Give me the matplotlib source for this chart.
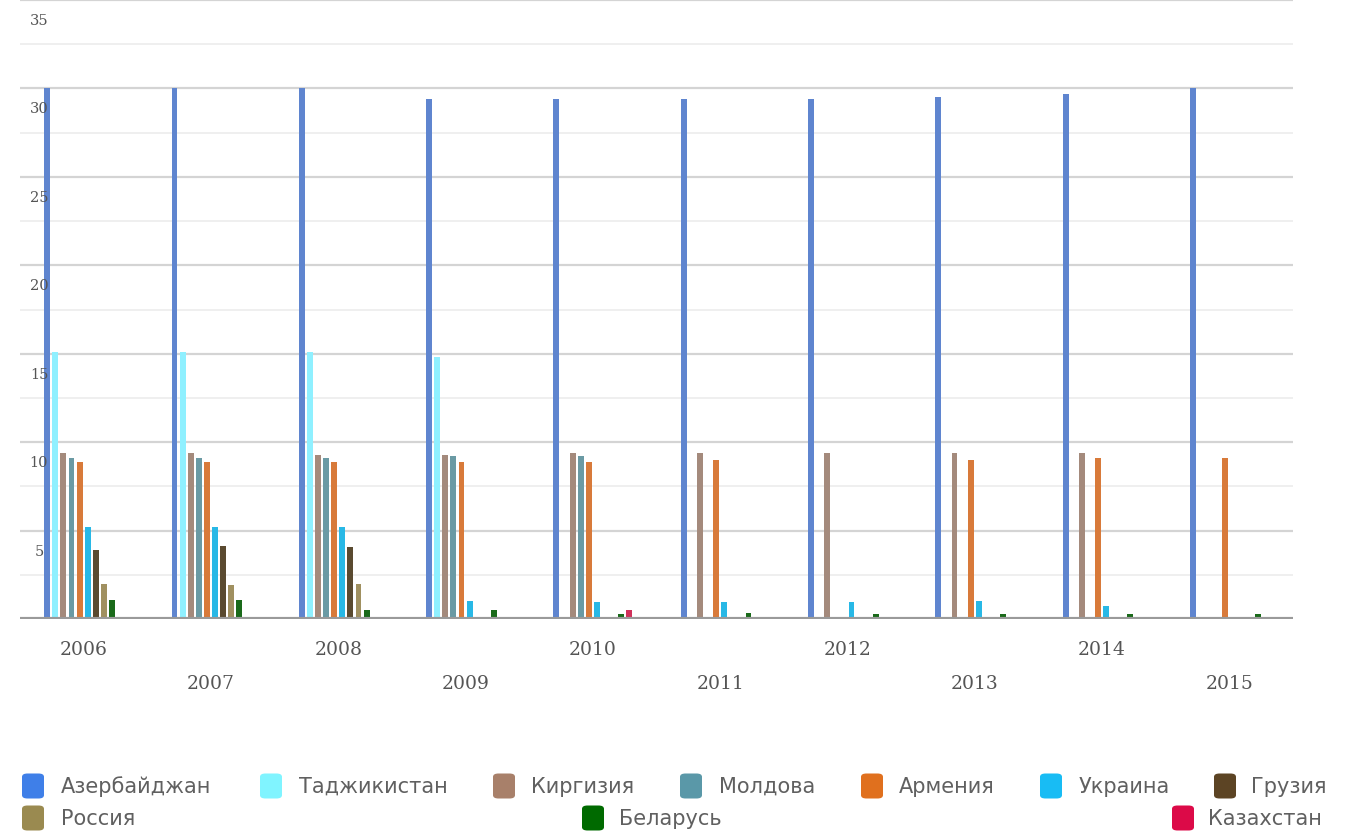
import matplotlib
matplotlib.use("Agg")
import matplotlib.pyplot as plt
import numpy as np
from matplotlib.patches import FancyBboxPatch

years = ["2006", "2007", "2008", "2009", "2010", "2011", "2012", "2013", "2014", "2015"]
countries = ["Азербайджан", "Таджикистан", "Киргизия", "Молдова", "Армения",
             "Украина", "Грузия", "Россия", "Беларусь", "Казахстан"]

azerbaijan = [30.0, 30.0, 30.0, 29.4, 29.4, 29.4, 29.4, 29.5, 29.7, 30.0]
tajikistan = [15.1, 15.1, 15.1, 14.8, 0, 0, 0, 0, 0, 0]
kirgizia   = [9.4, 9.4, 9.3, 9.3, 9.4, 9.4, 9.4, 9.4, 9.4, 0]
moldova    = [9.1, 9.1, 9.1, 9.2, 9.2, 0, 0, 0, 0, 0]
armenia    = [8.85, 8.85, 8.9, 8.9, 8.85, 9.0, 0, 9.0, 9.1, 9.1]
ukraine    = [5.2, 5.2, 5.2, 1.0, 0.95, 0.95, 0.95, 1.0, 0.75, 0]
georgia    = [3.9, 4.1, 4.05, 0, 0, 0, 0, 0, 0, 0]
russia     = [2.0, 1.9, 2.0, 0, 0, 0, 0, 0, 0, 0]
belarus    = [1.1, 1.1, 0.5, 0.5, 0.3, 0.35, 0.3, 0.3, 0.3, 0.3]
kazakhstan = [0, 0, 0, 0, 0.5, 0, 0, 0, 0, 0]

series = [azerbaijan, tajikistan, kirgizia, moldova, armenia,
          ukraine, georgia, russia, belarus, kazakhstan]
bar_colors = ["#5f85cf", "#8ff0ff", "#a48a7c", "#6a9aa4", "#d87a3a",
              "#28b8e6", "#5a4a30", "#a09060", "#1a6a1a", "#d0305a"]
legend_colors = ["#3f7fe8", "#80f4ff", "#a8806a", "#5a98a8", "#e0701e",
                 "#18bcf4", "#5c4424", "#9a8a50", "#006a00", "#dc0a48"]

W, H = 1350, 837
fig = plt.figure(figsize=(W / 100, H / 100), dpi=100)
ax = fig.add_axes([20 / W, 1 - 620 / H, (1293 - 20) / W, 619 / H])
ax.set_xlim(-0.5, len(years) - 0.5)
ax.set_ylim(0, 35)

x = np.arange(len(years))
slot = 0.0636
bw = 0.046
for i, (vals, c) in enumerate(zip(series, bar_colors)):
    ax.bar(x + (i - 4.5) * slot, vals, width=bw, color=c, edgecolor="none", zorder=3)

# gridlines
for v in np.arange(2.5, 35.1, 2.5):
    major = abs(v / 5 - round(v / 5)) < 1e-6
    ax.axhline(v, color="#d4d4d4" if major else "#ececec", lw=1.6 if major else 1.2, zorder=1)
ax.axhline(0, color="#9a9a9a", lw=3, zorder=4)

for s in ax.spines.values():
    s.set_visible(False)
ax.set_xticks([])
ax.set_yticks([])

# y labels (inside, below gridlines)
for v in range(5, 36, 5):
    ax.annotate(str(v), xy=(0, v), xycoords=("axes fraction", "data"),
                xytext=(19 / 1.389, -20 / 1.389), textcoords="offset points",
                ha="center", va="center", fontsize=10.5, family="DejaVu Serif",
                color="#555555")

# x labels, alternating rows
for i, yr in enumerate(years):
    off = 30 if i % 2 == 0 else 64
    ax.annotate(yr, xy=(i, 0), xycoords="data",
                xytext=(0, -off / 1.389), textcoords="offset points",
                ha="center", va="center", fontsize=13.5, family="DejaVu Serif",
                color="#555555")

# legend (manual layout)
items = [
    (0, 33, 61, 787), (1, 271, 299, 787), (2, 504, 531, 787), (3, 691, 719, 787),
    (4, 872, 899, 787), (5, 1051, 1079, 787), (6, 1225, 1251, 787),
    (7, 33, 61, 819), (8, 593, 619, 819), (9, 1183, 1208, 819),
]
for idx, sx, tx, ty in items:
    sw, sh = 22, 25
    p = FancyBboxPatch(((sx - sw / 2) / W, 1 - (ty + sh / 2) / H), sw / W, sh / H,
                       boxstyle="round,pad=0,rounding_size=0.004",
                       transform=fig.transFigure, facecolor=legend_colors[idx],
                       edgecolor="none")
    fig.patches.append(p)
    fig.text(tx / W, 1 - ty / H, countries[idx], ha="left", va="center",
             fontsize=15, family="DejaVu Sans", color="#606060")

fig.savefig("out.png", dpi=100, facecolor="white")
